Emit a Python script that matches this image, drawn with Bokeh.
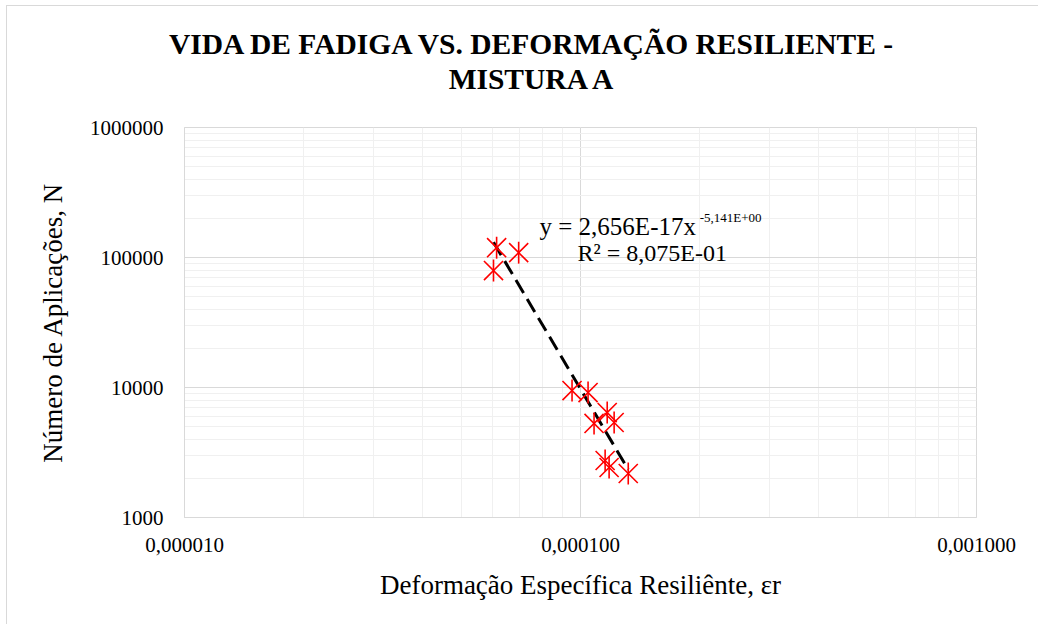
import math
from bokeh.plotting import figure
from bokeh.layouts import column
from bokeh.models import Label, CustomJSTickFormatter, LogTicker, Div
from bokeh.embed import file_html
from bokeh.resources import INLINE

# ---- data ----
strain = [6.14e-5, 6.98e-5, 6.03e-5, 9.52e-5, 1.045e-4, 1.168e-4, 1.216e-4,
          1.082e-4, 1.154e-4, 1.181e-4, 1.32e-4]
cycles = [119000, 109000, 79400, 9480, 9150, 6420, 5380, 5290, 2745, 2425, 2180]

# power trendline y = a * x^b (coefficients from the chart's label)
fit_a = 2.656e-17
fit_b = -5.141
eq_text = "y = 2,656E-17x"
eq_sup = "-5,141E+00"
r2_text = "R² = 8,075E-01"

title_1 = "VIDA DE FADIGA VS. DEFORMAÇÃO RESILIENTE -"
title_2 = "MISTURA A"
x_title = "Deformação Específica Resiliênte, εr"
y_title = "Número de Aplicações, N"

FONT = "Liberation Serif"
GRID = "#d9d9d9"
MINOR = "#f0f0f0"

title_div = Div(
    text=('<div style="margin-left:19px;width:1000px;text-align:center;'
          'font-family:\'Liberation Serif\',serif;font-weight:bold;font-size:29.5px;'
          'line-height:35px;padding-top:16px;color:#000;white-space:nowrap">'
          f'{title_1}<br>{title_2}</div>'),
    width=1031, height=100)

p = figure(width=1031, height=508, x_axis_type="log", y_axis_type="log",
           x_range=(1e-5, 1e-3), y_range=(1e3, 1e6),
           output_backend="svg", toolbar_location=None,
           min_border_left=177, min_border_right=62,
           min_border_top=11, min_border_bottom=107)
p.outline_line_color = GRID
p.background_fill_color = "white"

for ax in (p.xaxis[0], p.yaxis[0]):
    ax.axis_line_color = GRID
    ax.major_tick_line_color = None
    ax.minor_tick_line_color = None
    ax.major_label_text_font = FONT
    ax.major_label_text_font_size = "21px"
    ax.major_label_text_color = "#000000"
    ax.axis_label_text_font = FONT
    ax.axis_label_text_font_size = "27px"
    ax.axis_label_text_font_style = "normal"
    ax.axis_label_text_color = "#000000"

p.xaxis.ticker = LogTicker(num_minor_ticks=10, desired_num_ticks=3)
p.yaxis.ticker = LogTicker(num_minor_ticks=10, desired_num_ticks=4)
p.xaxis.formatter = CustomJSTickFormatter(code="return tick.toFixed(6).replace('.', ',');")
p.yaxis.formatter = CustomJSTickFormatter(code="return Math.round(tick).toString();")
p.xaxis.major_label_standoff = 14
p.yaxis.major_label_standoff = 15
p.xaxis.axis_label = x_title
p.yaxis.axis_label = y_title
p.xaxis.axis_label_standoff = 15
p.yaxis.axis_label_standoff = 19

for g in (p.xgrid[0], p.ygrid[0]):
    g.grid_line_color = GRID
    g.grid_line_width = 1
    g.minor_grid_line_color = MINOR
    g.minor_grid_line_width = 1

# trendline over the data's range
x0, x1 = min(strain), max(strain)
p.line([x0, x1], [fit_a * x0 ** fit_b, fit_a * x1 ** fit_b],
       line_color="black", line_width=3, line_dash="15 7")

# star markers: an x plus a vertical bar
p.scatter(strain, cycles, marker="x", size=27, line_color="red", line_width=1.6)
p.scatter(strain, cycles, marker="dash", angle=math.pi / 2, size=22,
          line_color="red", line_width=1.6)

# equation label
p.add_layout(Label(x=7.88e-5, y=1.73e5, text=eq_text, text_font=FONT,
                   text_font_size="25px", text_align="left",
                   text_baseline="alphabetic", text_color="black"))
p.add_layout(Label(x=2.0e-4, y=2.03e5, text=eq_sup, text_font=FONT,
                   text_font_size="13px", text_align="left",
                   text_baseline="alphabetic", text_color="black"))
p.add_layout(Label(x=9.83e-5, y=1.074e5, text=r2_text, text_font=FONT,
                   text_font_size="24px", text_align="left",
                   text_baseline="alphabetic", text_color="black"))

layout = column(title_div, p)
layout.styles = {"margin-left": "6px", "margin-top": "5px",
                 "border-left": "1px solid #d9d9d9", "border-top": "1px solid #d9d9d9"}

open("out.html", "w").write(file_html(layout, INLINE))
